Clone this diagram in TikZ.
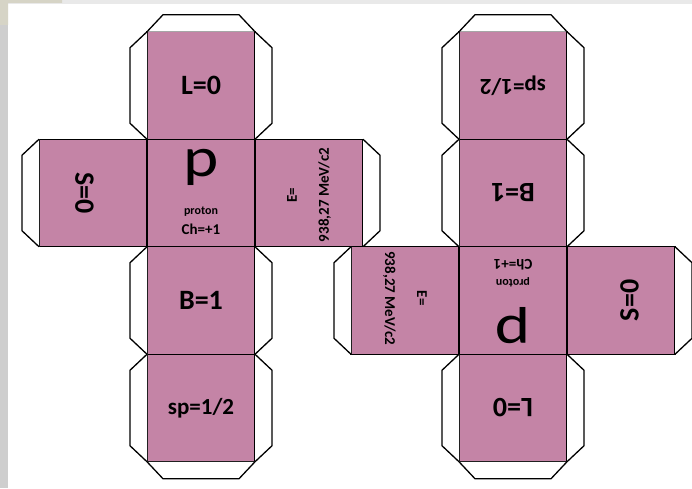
\documentclass[tikz,border=0pt]{standalone}
\usepackage{fontspec}
\setmainfont{Carlito}
\usetikzlibrary{positioning, calc}
\definecolor{facepink}{RGB}{196,132,166}
\definecolor{edgegrey}{RGB}{206,206,206}
\definecolor{topgrey}{RGB}{233,233,233}
\definecolor{cornerbeige}{RGB}{214,212,198}

\tikzset{
  face/.style={draw, fill=facepink, line width=1.3pt, minimum width=108pt,
               minimum height=107.5pt, inner sep=0pt, outer sep=0pt, align=center},
  flapline/.style={draw, fill=white, line width=1.3pt, line join=round},
  bigtxt/.style={font=\bfseries\fontsize{28}{32}\selectfont},
  midtxt/.style={font=\bfseries\fontsize{23}{27}\selectfont},
  etxt/.style={align=center, inner sep=0pt, font=\bfseries\fontsize{15}{18}\selectfont}
}

% tab on the outer side of the edge from #1 to #2 (faces walked clockwise)
\newcommand\flap[2]{%
  \draw[flapline] (#1) -- ($(#1)!16pt!(#2)!17pt!90:(#2)$)
    -- ($(#2)!16pt!(#1)!17pt!-90:(#1)$) -- (#2);}

% one net of the cube, #1 = prefix of the node names
\newcommand\cubenet[1]{%
  \node[face] (#1p) at (201,295) {};
  \node[face, bigtxt, above=0pt of #1p] (#1L) {L=0};
  \node[face, bigtxt, below=0pt of #1p] (#1B) {B=1};
  \node[face, midtxt, below=0pt of #1B] (#1sp) {sp=1/2};
  \node[face, left=0pt of #1p] (#1S) {};
  \node[face, right=0pt of #1p] (#1E) {};
  % texts
  \node[anchor=base, inner sep=0pt, xscale=1.2, font=\fontsize{56}{56}\selectfont]
    (#1pbig) at ($(#1p.north)!0.35!(#1p.south)$) {p};
  \node[anchor=base, inner sep=0pt, font=\bfseries\fontsize{12}{14}\selectfont]
    (#1proton) at ($(#1p.north)!0.70!(#1p.south)$) {proton};
  \node[anchor=base, inner sep=0pt, font=\bfseries\fontsize{15}{18}\selectfont]
    (#1ch) at ($(#1p.north)!0.885!(#1p.south)$) {Ch=+1};
  \node[bigtxt, rotate=-90, inner sep=0pt] (#1Stxt) at ($(#1S.west)!0.42!(#1S.east)$) {S=0};
  \node[etxt, rotate=90] (#1Etxt) at ($(#1E.north)!0.52!(#1E.south)$) {E=\\[14pt]938,27 MeV/c2};
  % tabs
  \flap{#1L.north west}{#1L.north east}
  \flap{#1L.south west}{#1L.north west}
  \flap{#1L.north east}{#1L.south east}
  \flap{#1S.south west}{#1S.north west}
  \flap{#1E.north east}{#1E.south east}
  \flap{#1B.south west}{#1B.north west}
  \flap{#1B.north east}{#1B.south east}
  \flap{#1sp.south west}{#1sp.north west}
  \flap{#1sp.north east}{#1sp.south east}
  \flap{#1sp.south east}{#1sp.south west}
}

\begin{document}
\begin{tikzpicture}[x=1pt, y=1pt]
  \useasboundingbox (0,0) rectangle (692,488);
  % background
  \fill[white] (0,0) rectangle (692,488);
  \fill[topgrey] (0,484) rectangle (692,488);
  \fill[edgegrey] (0,0) rectangle (8,488);
  \fill[cornerbeige] (0,488) -- (62,488) -- (62,485) -- (8,485) -- (8,463) -- (0,463) -- cycle;

  % left net
  \cubenet{l}

  % right net, the same net turned upside down
  \begin{scope}[rotate around={180:(357,241.25)}, transform shape]
    \cubenet{r}
  \end{scope}
\end{tikzpicture}
\end{document}
